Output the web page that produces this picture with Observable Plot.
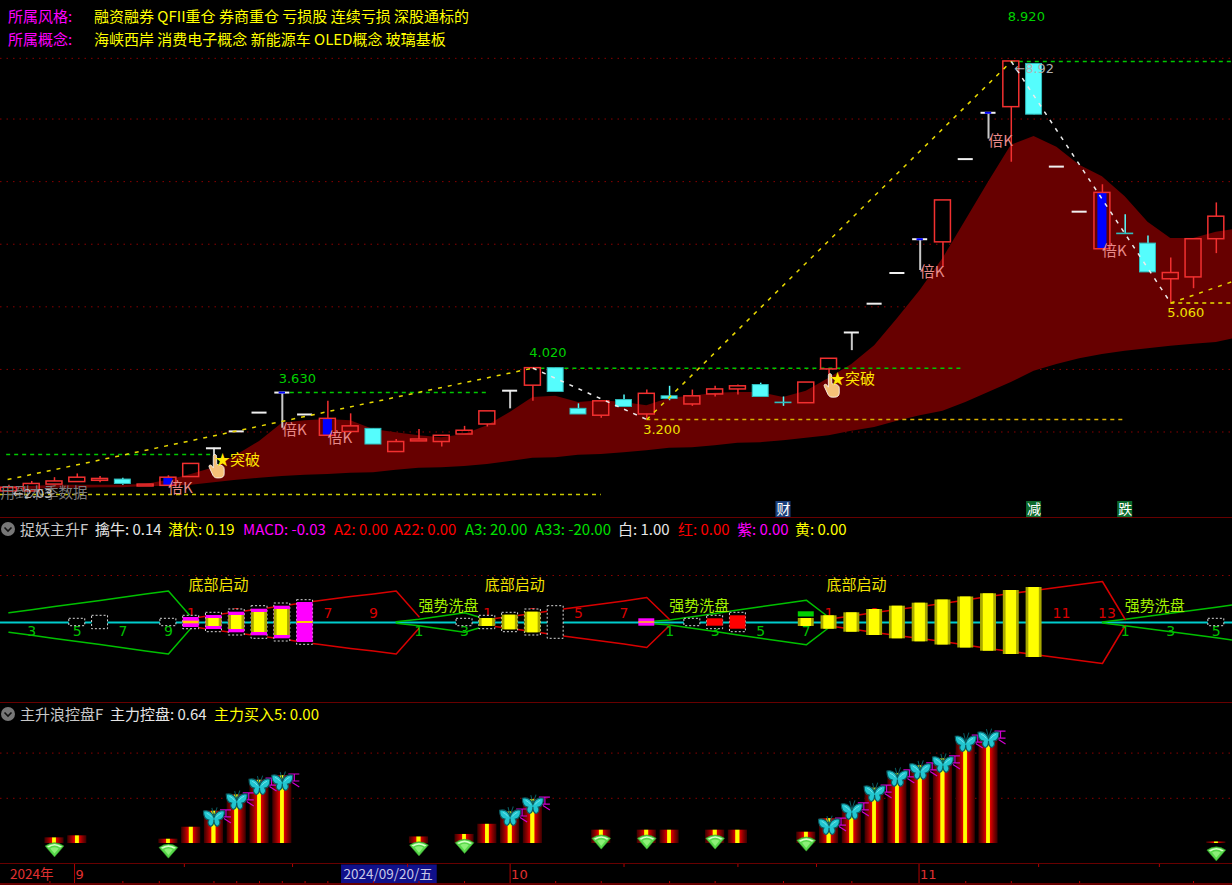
<!DOCTYPE html>
<html>
<head>
<meta charset="utf-8">
<script src="https://cdn.jsdelivr.net/npm/d3@7"></script>
<script src="https://cdn.jsdelivr.net/npm/@observablehq/plot@0.6"></script>
<style>
html,body{margin:0;padding:0;background:#000;width:1232px;height:885px;overflow:hidden;}
#chart svg{display:block;background:#000;}
#chart{position:absolute;left:0;top:0;}
.t{position:absolute;white-space:nowrap;font-family:"Noto Sans CJK SC","Noto Sans",sans-serif;font-size:15px;line-height:20px;z-index:3;}
.ico{position:absolute;z-index:3;}
</style>
</head>
<body>
<div id="chart"></div>
<script>
// ---------- main panel: daily candles ----------
const opens =[2.05,2.05,2.16,2.20,2.22,2.24,2.13,2.14,2.28,2.74,3.01,3.31,3.63,3.28,2.94,3.00,3.05,2.68,2.85,2.84,2.96,3.12,3.66,3.74,4.02,3.37,3.26,3.51,3.28,3.57,3.44,3.60,3.68,3.75,3.47,3.46,4.00,4.59,5.05,5.54,6.08,6.03,7.36,8.10,8.19,8.88,7.24,6.52,5.92,6.17,6.01,5.44,5.47,6.08];
const closes=[2.11,2.17,2.21,2.27,2.25,2.17,2.16,2.27,2.49,2.74,3.01,3.31,3.63,3.28,3.21,3.09,2.80,2.84,2.88,2.94,3.02,3.33,3.66,4.02,3.64,3.28,3.49,3.40,3.61,3.53,3.57,3.68,3.73,3.56,3.46,3.79,4.17,4.59,5.05,5.54,6.08,6.70,7.36,8.10,8.92,8.07,7.24,6.52,6.82,6.16,5.55,5.54,6.08,6.44];
const highs =[2.15,2.21,2.27,2.33,2.29,2.26,2.16,2.30,2.49,2.74,3.01,3.31,3.63,3.28,3.49,3.29,3.05,2.88,3.04,2.94,3.09,3.33,3.66,4.02,4.02,3.45,3.49,3.59,3.67,3.73,3.67,3.73,3.75,3.78,3.56,3.79,4.17,4.59,5.05,5.54,6.08,6.70,7.36,8.10,8.92,8.88,7.24,6.52,6.95,6.47,6.13,5.78,6.08,6.66];
const lows  =[2.05,2.05,2.16,2.20,2.19,2.15,2.13,2.14,2.28,2.61,3.01,3.31,3.06,3.28,2.94,3.00,2.80,2.68,2.85,2.76,2.96,3.08,3.37,3.49,3.64,3.28,3.22,3.40,3.20,3.50,3.41,3.56,3.59,3.56,3.41,3.46,3.90,4.30,5.05,5.54,5.58,5.63,7.36,7.68,7.31,8.07,7.24,6.52,5.92,6.16,5.55,5.06,5.29,5.85];
const blueBodies=[7,14,48];
const blueCaps=[12,40,43];
// dark red mountain band (54 bars + one off the right edge)
const bandUpper=[2.13,2.13,2.15,2.15,2.15,2.15,2.16,2.23,2.32,2.43,2.63,2.85,3.14,3.18,3.20,3.18,3.04,2.99,2.94,2.91,2.96,3.10,3.31,3.55,3.57,3.47,3.50,3.47,3.42,3.54,3.57,3.62,3.63,3.63,3.55,3.65,3.86,4.08,4.38,4.81,5.26,5.77,6.38,6.99,7.58,7.72,7.55,7.26,7.08,6.76,6.35,6.09,6.09,6.19,6.25];
const bandLower=[2.08,2.08,2.10,2.10,2.11,2.11,2.13,2.13,2.15,2.19,2.23,2.26,2.29,2.31,2.32,2.34,2.35,2.39,2.42,2.43,2.45,2.48,2.53,2.58,2.59,2.63,2.64,2.67,2.70,2.74,2.75,2.78,2.82,2.83,2.86,2.90,2.94,3.01,3.07,3.17,3.26,3.33,3.47,3.63,3.79,3.97,4.08,4.17,4.24,4.29,4.33,4.37,4.40,4.43,4.51];
const priceGrid=[3,4,5,6,7,8,8.97];
// zigzag trend
const zigIndex=[-0.06,23,28,44,51,54];
const zigPrice=[2.24,4.02,3.20,8.92,5.06,5.44];
// horizontal pressure / support lines
const greenFrom=[-0.1,12,23,44], greenTo=[9,21,41.9,54], greenPrice=[2.64,3.63,4.02,8.92];
const yellowFrom=[-0.37,28,51], yellowTo=[26,48.9,54], yellowPrice=[2.00,3.20,5.06], yellowColor=["#c8c800","#d8b000","#e8e000"];
// labels
const beiK=[7,12,14,40,43,48];
const breakouts=[9,36];
const peakIndex=[12,23,44], peakText=["3.630","4.020","8.920"], peakLabelAt=[3.85,4.27,9.64];
const troughIndex=[28,51], troughText=["3.200","5.060"], troughPrice=[3.20,5.06];
const eventIndex=[34,45,49], eventText=["财","减","跌"], eventColor=["#1b3f7a","#0c6a2c","#0c6a2c"];
const eventPrice=1.76;

// ---------- oscillator panel ----------
const dottedIndex=[3,4,7,8,9,10,11,12,13,20,21,22,23,24,30,31,32,53];
const dottedHalf=[3.7,6.7,3.7,6.7,9.7,13,16.3,19,22.3,3.7,6.7,9.7,13,16.3,3.7,6.7,9.7,3.7];
const magentaIndex=[8,9,10,11,12,13,28];
const magentaHalf=[5,7,10.3,13.3,16.3,20,3.7];
const yellowIndex=[8,9,10,11,12,13,21,22,23,28,35,36,37,38,39,40,41,42,43,44,45];
const yellowHalf=[1.3,4,7,10,13,1,4,7.3,10.3,0.7,4,6.7,9.7,13,16.3,19.3,22.5,25.5,28.7,32,35];
const redIndex=[31,32], redHalf=[3.7,6.7];
const greenWaves=[
  {from:0, values:[9.7,12.8,16,19,22,25.3,28.4,31.6,5.5]},
  {from:17,values:[0.7,3.3,6.5,9.7,3]},
  {from:28,values:[0.7,2.5,5.8,9,12.4,15.7,19,22.3,5]},
  {from:48,values:[0.5,3.3,6.3,9.3,12.3,15.3,18.5]}
];
const redWaves=[
  {from:8, values:[4,7.5,10.5,13.5,16.5,20,23,26,28.5,31.5,5.7]},
  {from:21,values:[3,6,9,12.5,15.5,18.5,21.5,25,3]},
  {from:36,values:[3.5,6.5,10,13,16,19,22.5,26,29,32,35,38,41,3]}
];
const greenNumIndex=[1,3,5,7,18,20,29,31,33,35,49,51,53], greenNumText=["3","5","7","9","1","3","1","3","5","7","1","3","5"];
const redNumIndex=[8,10,14,16,21,23,25,27,36,38,46.2,48.2], redNumText=["1","3","7","9","1","3","5","7","1","3","11","13"];
const startIndex=[9.2,22.2,37.2], washIndex=[19.3,30.3,50.3];
const oscGrid=[47];

// ---------- capital-control panel ----------
const ctrlIndex=[2,3,7,8,9,10,11,12,18,20,21,22,23,26,28,29,31,32,35,36,37,38,39,40,41,42,43,53];
const ctrlValue=[2.5,3.4,1.9,7.2,14.3,21.5,28,30,2.9,4,8.5,14,19.5,5.9,5.9,5.9,5.9,5.9,5,11,15.5,24.5,31,34.4,37.5,45,47,0.7];
const diamonds=[2,7,18,20,26,28,31,35,53];
const butterflyIndex=[9,10,11,12,22,23,36,37,38,39,40,41,42,43];
const butterflyValue=[11.1,18.6,25.2,27,11.5,16.8,7.5,14.2,22.1,28.8,31.9,35,44.2,46];
const ctrlGrid=[20,40];

// ---------- date strip ----------
const monthIndex=[2.88,22,39.95], monthText=["9","10","11"];
const minorTicks=[7.7,12.45,17.5,27,32,35.45,45.2,50.5];
const minorTicksLow=[1.8,5,6.6,9,10,11,12,13,14,16,18,20,24,26,29,31,34,37,42,44,47,52];

// ---------- header texts ----------
const styleTags="融资融券 QFII重仓 券商重仓 亏损股 连续亏损 深股通标的";
const conceptTags="海峡西岸 消费电子概念 新能源车 OLED概念 玻璃基板";
const oscLegendText=["擒牛: 0.14","潜伏: 0.19","MACD: -0.03","A2: 0.00","A22: 0.00","A3: 20.00","A33: -20.00","白: 1.00","红: 0.00","紫: 0.00","黄: 0.00"];
const oscLegendLeft=[95,168,243,334,394,465,535,618,678,737,795];
const oscLegendColor=["#e6e6e6","#ffff00","#ff00ff","#ff0000","#ff0000","#00e000","#00e000","#e6e6e6","#ff0000","#ff00ff","#ffff00"];

const CJK='"Noto Sans CJK SC","Noto Sans",sans-serif';
const NUM='"DejaVu Sans",sans-serif';
const xScale={domain:[-0.3705,53.71],range:[0,1232],axis:null};
const base={width:1232,marginTop:0,marginBottom:0,marginLeft:0,marginRight:0,x:xScale,style:{background:"#000"}};

const bars=d3.range(54).map(i=>({i,o:opens[i],c:closes[i],h:highs[i],l:lows[i],
  top:Math.max(opens[i],closes[i]),bot:Math.min(opens[i],closes[i])}));
const flat=bars.filter(d=>d.o===d.c);
const body=bars.filter(d=>d.o!==d.c);
const up=body.filter(d=>d.c>d.o), down=body.filter(d=>d.c<d.o);
const red="#f23030", cyan="#55fdfd";
const band=bandUpper.map((u,i)=>({i,u,l:bandLower[i]}));
const zig=zigIndex.slice(1).map((x,k)=>({x1:zigIndex[k],y1:zigPrice[k],x2:x,y2:zigPrice[k+1],up:zigPrice[k+1]>zigPrice[k]}));
const svgUri=s=>"data:image/svg+xml,"+encodeURIComponent(s);
const handUri=svgUri(`<svg xmlns="http://www.w3.org/2000/svg" viewBox="0 0 18 26"><path d="M7 1c1.2 0 1.6 1 1.6 2l.2 8 4 .8c2 .5 3.400 1.500 3.400 3.700v5c0 2.500-2 4-4.500 4H9c-2 0-3-1-4-2.500L1.300 14c-.6-1-.3-2 .5-2.300.8-.3 1.700 0 2.300 1l1.200 1.800V3c0-1.200.6-2 1.700-2z" fill="#f5c078" stroke="#fff" stroke-width=".8"/></svg>`);
const diamondUri=svgUri(`<svg xmlns="http://www.w3.org/2000/svg" viewBox="0 0 22 18"><path d="M1 6 Q11 -1 21 6 L11 17.500 Z" fill="#57d84a" stroke="#2a8a22" stroke-width=".6"/><path d="M3 6.500 Q11 1 19 6.500 L17 7.500 Q11 3.500 5 7.500 Z" fill="#d6ffc8"/><path d="M6.500 8.500 Q11 6 15.500 8.500 L11 14 Z" fill="#8cf078"/></svg>`);
const butterflyUri=svgUri(`<svg xmlns="http://www.w3.org/2000/svg" viewBox="0 0 22 20"><path d="M11 10 C9 5 5 3 1 4 C1 8 2 12 6 12.500 C4.500 14.500 5.500 18 8 18.500 C10 18 11 15 11 12 C11 15 12 18 14 18.500 C16.500 18 17.500 14.500 16 12.500 C20 12 21 8 21 4 C17 3 13 5 11 10 Z" fill="#22c6d0" stroke="#0a5a60" stroke-width="1.100"/><path d="M11 9 L9 1 M11 9 L14 0.500" stroke="#0a5a60" fill="none" stroke-width="1"/><path d="M4 6 Q7 7 9 10 M18 6 Q15 7 13 10" stroke="#7fe9ee" fill="none" stroke-width=".8"/></svg>`);
const glyphUri=svgUri(`<svg xmlns="http://www.w3.org/2000/svg" viewBox="0 0 14 16"><path d="M1 1.500H12 M7 1.500V8 M3 8.500H12 M5 10L12 14.500" stroke="#d000d0" stroke-width="1.200" fill="none"/></svg>`);

// ---------- main panel ----------
const priceChart=Plot.plot({...base,height:518,
  y:{domain:[9.894,1.618],range:[0,518],axis:null},
  marks:[
    Plot.ruleY(priceGrid,{x1:-0.37,x2:53.71,stroke:"#8a0000",strokeWidth:1,strokeDasharray:"1.500 5"}),
    Plot.areaY(band,{x:"i",y1:"l",y2:"u",fill:"#670000",curve:"linear"}),
    Plot.ruleY(greenPrice.map((p,k)=>({p,a:greenFrom[k],b:greenTo[k]})),{y:"p",x1:"a",x2:"b",stroke:"#00c800",strokeWidth:1.500,strokeDasharray:"4 4"}),
    Plot.ruleY(yellowPrice.map((p,k)=>({p,a:yellowFrom[k],b:yellowTo[k],c:yellowColor[k]})),{y:"p",x1:"a",x2:"b",stroke:"c",strokeWidth:1.500,strokeDasharray:"4 4"}),
    // flat-open candles: white dashes and T's
    Plot.ruleX(flat.filter(d=>d.l<d.o),{x:"i",y1:"l",y2:"o",stroke:"#c8c8c8",strokeWidth:2}),
    Plot.ruleY(flat,{y:"o",x1:d=>d.i-0.33,x2:d=>d.i+0.33,stroke:"#f0f0f0",strokeWidth:2}),
    Plot.ruleY(blueCaps.map(i=>bars[i]),{y:"o",x1:d=>d.i-0.14,x2:d=>d.i+0.14,stroke:"#0000ff",strokeWidth:2}),
    // wicks
    Plot.ruleX(up,{x:"i",y1:"top",y2:"h",stroke:red,strokeWidth:1.500}),
    Plot.ruleX(up,{x:"i",y1:"l",y2:"bot",stroke:red,strokeWidth:1.500}),
    Plot.ruleX(down,{x:"i",y1:"l",y2:"h",stroke:cyan,strokeWidth:1.500}),
    // bodies
    Plot.rect(down,{x1:d=>d.i-0.35,x2:d=>d.i+0.35,y1:"bot",y2:"top",fill:cyan,stroke:"#2fbdbd",strokeWidth:1}),
    Plot.rect(blueBodies.map(i=>bars[i]),{x1:d=>d.i-0.2,x2:d=>d.i+0.2,y1:"bot",y2:"top",fill:"#0000ff"}),
    Plot.rect(up,{x1:d=>d.i-0.35,x2:d=>d.i+0.35,y1:"bot",y2:"top",fill:"none",stroke:red,strokeWidth:1.500}),
    // zigzag
    Plot.link(zig,{x1:"x1",y1:"y1",x2:"x2",y2:"y2",stroke:d=>d.up?"#e8d800":"#ececec",strokeWidth:1.500,strokeDasharray:"4 6"}),
    // labels
    Plot.text(beiK,{x:d=>d,y:d=>lows[d],text:()=>"倍K",dx:12,dy:2,fill:"#e88a8a",fontFamily:CJK,fontSize:15}),
    Plot.image(breakouts,{x:d=>d,y:d=>lows[d],src:()=>handUri,width:18,height:26,dx:3,dy:10}),
    Plot.text(breakouts,{x:d=>d,y:d=>lows[d],text:()=>"★突破",textAnchor:"start",dx:1,dy:4,fill:"#ffe600",fontFamily:CJK,fontSize:15}),
    Plot.text(peakIndex,{x:d=>d,y:(d,k)=>peakLabelAt[k],text:(d,k)=>peakText[k],dx:15,fill:"#00d000",fontFamily:NUM,fontSize:13}),
    Plot.text(troughIndex,{x:d=>d,y:(d,k)=>troughPrice[k],text:(d,k)=>troughText[k],dx:15,dy:10,fill:"#f0e000",fontFamily:NUM,fontSize:13}),
    Plot.text([44],{x:d=>d,y:()=>8.92,text:()=>"←8.92",textAnchor:"start",dx:3,dy:7,fill:"#b0b0b0",fontFamily:NUM,fontSize:13}),
    Plot.text([-0.37],{x:d=>d,y:()=>2.02,text:()=>"用到本季数据",textAnchor:"start",fill:"#7d7d7d",fontFamily:CJK,fontSize:14.500}),
    Plot.text([1],{x:d=>d,y:()=>2.02,text:()=>"←2.03",fill:"#c0c0c0",fontFamily:NUM,fontSize:13,dx:1}),
    Plot.rect(eventIndex,{x1:d=>d-0.33,x2:d=>d+0.33,y1:()=>eventPrice-0.13,y2:()=>eventPrice+0.13,fill:(d,k)=>eventColor[k]}),
    Plot.text(eventIndex,{x:d=>d,y:()=>eventPrice,text:(d,k)=>eventText[k],fill:"#fff",fontFamily:CJK,fontSize:14}),
    Plot.ruleY([1.626],{stroke:"#8a0000",strokeWidth:1.500})
  ]});

// ---------- oscillator ----------
const rowsOf=(idx,half)=>idx.map((i,k)=>({i,h:half[k]}));
const waveMarks=(waves,color)=>waves.flatMap(w=>{
  const pts=w.values.map((v,k)=>({i:w.from+k,v}));
  return [Plot.line(pts,{x:"i",y:"v",stroke:color,strokeWidth:1.500}),Plot.line(pts,{x:"i",y:d=>-d.v,stroke:color,strokeWidth:1.500})];
});
const boxRect=(rows,w,opts)=>Plot.rect(rows,{x1:d=>d.i-w,x2:d=>d.i+w,y1:d=>-d.h,y2:"h",...opts});
const yellowRows=rowsOf(yellowIndex,yellowHalf);
const oscChart=Plot.plot({...base,height:185,
  y:{domain:[104,-81],range:[0,185],axis:null},
  marks:[
    Plot.ruleY(oscGrid,{x1:-0.37,x2:53.71,stroke:"#8a0000",strokeDasharray:"1.500 5"}),
    Plot.ruleY([0],{stroke:"#00cccc",strokeWidth:2}),
    ...waveMarks(greenWaves,"#00c000"),
    ...waveMarks(redWaves,"#d80000"),
    Plot.text(greenNumIndex,{x:d=>d,y:()=>-9,text:(d,k)=>greenNumText[k],fill:"#00c000",fontFamily:NUM,fontSize:14}),
    Plot.text(redNumIndex,{x:d=>d,y:()=>9,text:(d,k)=>redNumText[k],fill:"#d80000",fontFamily:NUM,fontSize:14}),
    boxRect(rowsOf(dottedIndex,dottedHalf),0.35,{fill:"#000",stroke:"#d8d8d8",strokeWidth:1,strokeDasharray:"2 2"}),
    boxRect(rowsOf(magentaIndex,magentaHalf),0.35,{fill:"#ff00ff"}),
    boxRect(yellowRows.filter(d=>d.h>2),0.35,{fill:"#a8a800"}),
    boxRect(yellowRows.filter(d=>d.h>2),0.23,{fill:"#ffff00"}),
    boxRect(yellowRows.filter(d=>d.h<=2),0.35,{fill:"#ffcc00"}),
    boxRect(rowsOf(redIndex,redHalf),0.35,{fill:"#ff0000"}),
    Plot.rect([35],{x1:d=>d-0.35,x2:d=>d+0.35,y1:()=>5.5,y2:()=>10.7,fill:"#00d000"}),
    Plot.text(startIndex,{x:d=>d,y:()=>37,text:()=>"底部启动",fill:"#f0e000",fontFamily:CJK,fontSize:15}),
    Plot.text(washIndex,{x:d=>d,y:()=>16,text:()=>"强势洗盘",fill:"#a0f000",fontFamily:CJK,fontSize:15}),
    Plot.ruleY([-80.5],{stroke:"#8a0000",strokeWidth:1.500})
  ]});

// ---------- capital control ----------
const ctrlRows=ctrlIndex.map((i,k)=>({i,v:ctrlValue[k]}));
const valueAt=i=>ctrlRows.find(d=>d.i===i).v;
const butterflyRows=butterflyIndex.map((i,k)=>({i,v:butterflyValue[k]}));
const ctrlChart=Plot.plot({...base,height:161,
  y:{domain:[61.95,-9.29],range:[0,161],axis:null},
  marks:[
    ()=>{
      const defs=d3.create("svg:defs");
      const g=defs.append("linearGradient").attr("id","barGrad").attr("x1",0).attr("x2",1).attr("y1",0).attr("y2",0);
      [[0,"#3a0000"],[0.2,"#8a0000"],[0.38,"#e00000"],[0.4,"#ffcc00"],[0.44,"#ffff00"],[0.56,"#ffff00"],[0.6,"#ffcc00"],[0.62,"#e00000"],[0.8,"#8a0000"],[1,"#3a0000"]]
        .forEach(([o,c])=>g.append("stop").attr("offset",o).attr("stop-color",c));
      return defs.node();
    },
    Plot.ruleY(ctrlGrid,{x1:-0.37,x2:53.71,stroke:"#8a0000",strokeDasharray:"1.500 5"}),
    Plot.rect(ctrlRows,{x1:d=>d.i-0.42,x2:d=>d.i+0.42,y1:()=>0,y2:"v",fill:"url(#barGrad)"}),
    Plot.image(butterflyRows,{x:"i",y:"v",src:()=>glyphUri,width:14,height:16,dx:12,dy:-2}),
    Plot.image(butterflyRows,{x:"i",y:"v",src:()=>butterflyUri,width:24,height:21,dy:-1}),
    Plot.image(diamonds,{x:d=>d,y:d=>valueAt(d),src:()=>diamondUri,width:21,height:17,dy:11}),
    Plot.ruleY([-9.07],{stroke:"#8a0000",strokeWidth:1.500})
  ]});

// ---------- date strip ----------
const dateChart=Plot.plot({...base,height:21,
  y:{domain:[0,21],range:[0,21],axis:null},
  marks:[
    Plot.rect([14.6],{x1:d=>d,x2:()=>18.8,y1:()=>0.5,y2:()=>19,fill:"#10108a"}),
    Plot.ruleX(monthIndex,{y1:0,y2:19,stroke:"#b00000",strokeWidth:1}),
    Plot.ruleX(minorTicks,{y1:0,y2:3,stroke:"#b00000",strokeWidth:1}),
    Plot.ruleX(minorTicksLow,{y1:17,y2:19,stroke:"#b00000",strokeWidth:1}),
    Plot.text(monthIndex,{x:d=>d,y:()=>10,text:(d,k)=>monthText[k],textAnchor:"start",dx:1,fill:"#e03030",fontFamily:NUM,fontSize:13}),
    Plot.text([1],{x:d=>d,y:()=>10.5,text:()=>"2024年",fill:"#e03030",fontFamily:CJK,fontSize:13.5}),
    Plot.text([14.6],{x:d=>d,y:()=>10,text:()=>"2024/09/20/五",textAnchor:"start",dx:2,fill:"#c8c8e8",fontFamily:CJK,fontSize:13.5}),
    Plot.ruleY([19.5],{stroke:"#8a0000",strokeWidth:1.500})
  ]});

const root=document.getElementById("chart");
[priceChart,oscChart,ctrlChart,dateChart].forEach(c=>root.appendChild(c));

// ---------- html texts ----------
function addText(txt,left,top,color){
  const e=document.createElement("div");e.className="t";e.textContent=txt;
  e.style.left=left+"px";e.style.top=top+"px";e.style.color=color;document.body.appendChild(e);
}
function addIcon(top){
  const s=d3.create("svg").attr("class","ico").attr("width",16).attr("height",16)
    .style("left","0px").style("top",top+"px");
  s.append("circle").attr("cx",8).attr("cy",8).attr("r",7).attr("fill","#777");
  s.append("path").attr("d","M4.500 6.500L8 10L11.500 6.500").attr("stroke","#111").attr("stroke-width",1.600).attr("fill","none");
  document.body.appendChild(s.node());
}
addText("所属风格:",8,6,"#ff00ff");
addText(styleTags,94,6,"#ffff00");
addText("所属概念:",8,29,"#ff00ff");
addText(conceptTags,94,29,"#ffff00");
addIcon(521);
addText("捉妖主升F",20,519,"#c8c8c8");
oscLegendText.forEach((t,k)=>addText(t,oscLegendLeft[k],519,oscLegendColor[k]));
addIcon(706);
addText("主升浪控盘F",20,704,"#c8c8c8");
addText("主力控盘: 0.64",110,704,"#e6e6e6");
addText("主力买入5: 0.00",214,704,"#ffff00");
</script>
</body>
</html>
